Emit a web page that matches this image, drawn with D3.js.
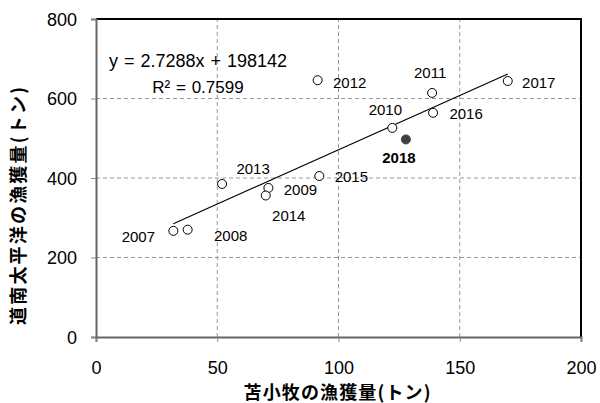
<!DOCTYPE html>
<html><head><meta charset="utf-8">
<script src="https://cdn.jsdelivr.net/npm/d3@7"></script>
<style>body{margin:0;background:#fff}svg{display:block}</style>
</head><body>
<script>
const years = ["2007","2008","2009","2010","2011","2012","2013","2014","2015","2016","2017","2018"];
const xVals = [31.9, 37.8, 71.1, 122.2, 138.6, 91.4, 52.0, 70.0, 92.1, 139.0, 169.8, 127.8];
const yVals = [267, 270, 375, 526, 614, 646, 385, 356, 405, 564, 644, 497];
const highlight = ["2018"];
// label offsets (px) relative to point
const labelDx = [-35, 43, 32, -7, -2, 32, 31, 23, 32, 33, 31, -7];
const labelDy = [6, 6, 2, -18, -20, 2, -15, 20, 1, 1, 2, 18];
const xTicks = [0, 50, 100, 150, 200];
const yTicks = [0, 200, 400, 600, 800];
const slope = 2.7288, intercept = 198.142;
const eqText = "y = 2.7288x + 198142";
const r2Text = "R² = 0.7599";
const xTitle = "苫小牧の漁獲量(トン)";
const yTitle = "道南太平洋の漁獲量(トン)";

const W = 600, H = 403;
const svg = d3.select("body").append("svg").attr("width", W).attr("height", H);
const x = d3.scaleLinear().domain([0, 200]).range([96, 581]);
const y = d3.scaleLinear().domain([0, 800]).range([337, 19]);
const font = "'Liberation Sans', Arial, sans-serif";
const cjk = "'Noto Sans CJK JP', sans-serif";

// grid
svg.append("g").selectAll("line").data(xTicks.slice(1, -1)).join("line")
  .attr("x1", d => x(d)).attr("x2", d => x(d)).attr("y1", y(0)).attr("y2", y(800))
  .attr("stroke", "#999").attr("stroke-dasharray", "4,3").attr("stroke-width", 1);
svg.append("g").selectAll("line").data(yTicks.slice(1, -1)).join("line")
  .attr("x1", x(0)).attr("x2", x(200)).attr("y1", d => y(d)).attr("y2", d => y(d))
  .attr("stroke", "#999").attr("stroke-dasharray", "4,3").attr("stroke-width", 1);

// frame top/right
svg.append("path").attr("d", `M${x(0)},${y(800)}H${x(200)}V${y(0)}`)
  .attr("fill", "none").attr("stroke", "#000").attr("stroke-width", 2);

// axes
const xAxis = svg.append("g").attr("transform", `translate(0,${y(0)})`)
  .call(d3.axisBottom(x).tickValues(xTicks).tickSize(5).tickPadding(19));
const yAxis = svg.append("g").attr("transform", `translate(${x(0)},0)`)
  .call(d3.axisLeft(y).tickValues(yTicks).tickSize(5).tickPadding(14));
[xAxis, yAxis].forEach(a => {
  a.select(".domain").attr("stroke", "#666").attr("stroke-width", 2);
  a.selectAll(".tick line").attr("stroke", "#888");
  a.selectAll("text").attr("font-family", font).attr("font-size", 18).attr("fill", "#000");
});
yAxis.selectAll("text").attr("dy", "0.36em");

// trend line
const xmin = d3.min(xVals), xmax = d3.max(xVals);
svg.append("line")
  .attr("x1", x(xmin)).attr("y1", y(slope * xmin + intercept))
  .attr("x2", x(xmax)).attr("y2", y(slope * xmax + intercept))
  .attr("stroke", "#000").attr("stroke-width", 1.1);

const data = years.map((yr, i) => ({yr, xv: xVals[i], yv: yVals[i], dx: labelDx[i], dy: labelDy[i], hl: highlight.includes(yr)}));

svg.append("g").selectAll("circle").data(data).join("circle")
  .attr("cx", d => x(d.xv)).attr("cy", d => y(d.yv)).attr("r", 4.5)
  .attr("fill", d => d.hl ? "#404040" : "#fff")
  .attr("stroke", d => d.hl ? "#404040" : "#000").attr("stroke-width", 1);

svg.append("g").selectAll("text").data(data).join("text")
  .attr("x", d => x(d.xv) + d.dx).attr("y", d => y(d.yv) + d.dy)
  .attr("text-anchor", "middle").attr("dy", "0.36em")
  .attr("font-family", font).attr("font-size", 15)
  .attr("font-weight", d => d.hl ? "bold" : "normal")
  .attr("fill", "#000").text(d => d.yr);

// equation
svg.append("text").attr("x", 198).attr("y", 61).attr("text-anchor", "middle").attr("dy", "0.36em")
  .attr("font-family", font).attr("font-size", 18).attr("word-spacing", 1).text(eqText);
svg.append("text").attr("x", 198).attr("y", 87).attr("text-anchor", "middle").attr("dy", "0.36em")
  .attr("font-family", font).attr("font-size", 17).attr("word-spacing", 1).text(r2Text);

// titles
svg.append("text").attr("x", 337).attr("y", 391).attr("text-anchor", "middle")
  .attr("dominant-baseline", "central").attr("font-family", cjk)
  .attr("font-weight", "bold").attr("font-size", 18)
  .attr("textLength", 187).attr("lengthAdjust", "spacing").text(xTitle);
svg.append("text").attr("transform", "translate(17,206) rotate(-90)").attr("text-anchor", "middle")
  .attr("dominant-baseline", "central").attr("font-family", cjk)
  .attr("font-weight", "bold").attr("font-size", 18)
  .attr("textLength", 238).attr("lengthAdjust", "spacing").text(yTitle);
</script>
</body></html>
